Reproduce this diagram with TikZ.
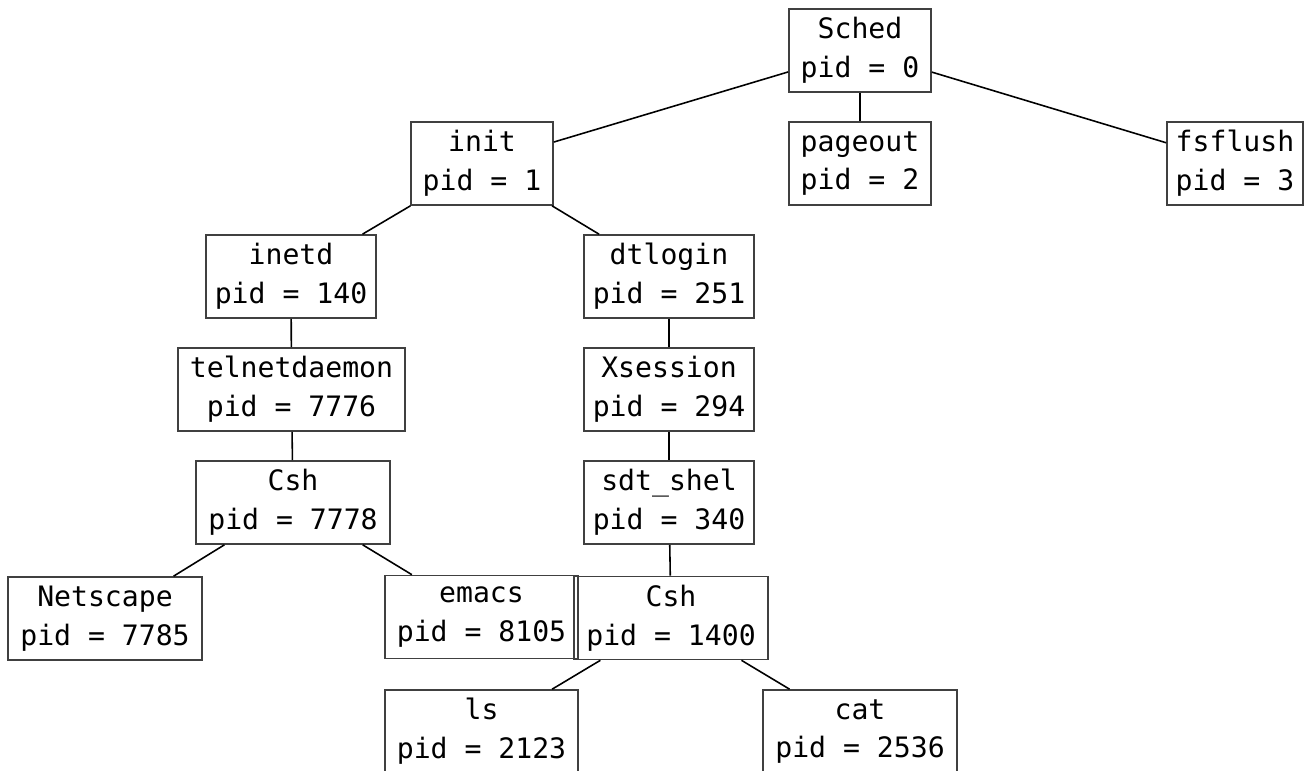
\documentclass[tikz,border=0pt]{standalone}
\usepackage{fontspec}
\setmonofont{DejaVu Sans Mono}
\begin{document}
\begin{tikzpicture}[x=0.01cm, y=-0.01cm,
    proc/.style={draw=black!75, line width=0.45pt, align=center,
      font=\ttfamily\fontsize{8}{11}\selectfont,
      minimum width=#1, minimum height=0.83cm, inner sep=0pt}]

        % Frame of the picture
        \path[use as bounding box, clip] (0,0) rectangle (1310,771);

        % Top of the tree
        \node[proc=1.42cm] (sched) at (860,50.5) {Sched\\pid = 0};
        \node[proc=1.42cm] (init) at (482,163.5) {init\\pid = 1};
        \node[proc=1.42cm] (pageout) at (860,163.5) {pageout\\pid = 2};
        \node[proc=1.36cm] (fsflush) at (1235,163.5) {fsflush\\pid = 3};

        % Left branch
        \node[proc=1.70cm] (inetd) at (291,276.5) {inetd\\pid = 140};
        \node[proc=2.27cm] (telnet) at (291.5,389.5) {telnetdaemon\\pid = 7776};
        \node[proc=1.94cm] (cshleft) at (293,502.5) {Csh\\pid = 7778};
        \node[proc=1.94cm] (netscape) at (105,618.5) {Netscape\\pid = 7785};
        \node[proc=1.93cm] (emacs) at (481.5,617) {emacs\\pid = 8105};

        % Right branch
        \node[proc=1.70cm] (dtlogin) at (669,276.5) {dtlogin\\pid = 251};
        \node[proc=1.70cm] (xsession) at (669,389.5) {Xsession\\pid = 294};
        \node[proc=1.70cm] (sdtshel) at (669,502.5) {sdt\_shel\\pid = 340};
        \node[proc=1.94cm] (cshright) at (671,618) {Csh\\pid = 1400};
        \node[proc=1.93cm] (ls) at (481.5,731.5) {ls\\pid = 2123};
        \node[proc=1.94cm] (cat) at (860,731.5) {cat\\pid = 2536};

        % Parent -- child links
        \draw[line width=0.45pt] (sched) -- (init);
        \draw[line width=0.45pt] (sched) -- (pageout);
        \draw[line width=0.45pt] (sched) -- (fsflush);
        \draw[line width=0.45pt] (init) -- (inetd);
        \draw[line width=0.45pt] (init) -- (dtlogin);
        \draw[line width=0.45pt] (inetd) -- (telnet);
        \draw[line width=0.45pt] (telnet) -- (cshleft);
        \draw[line width=0.45pt] (cshleft) -- (netscape);
        \draw[line width=0.45pt] (cshleft) -- (emacs);
        \draw[line width=0.45pt] (dtlogin) -- (xsession);
        \draw[line width=0.45pt] (xsession) -- (sdtshel);
        \draw[line width=0.45pt] (sdtshel) -- (cshright);
        \draw[line width=0.45pt] (cshright) -- (ls);
        \draw[line width=0.45pt] (cshright) -- (cat);

      \end{tikzpicture}
\end{document}
